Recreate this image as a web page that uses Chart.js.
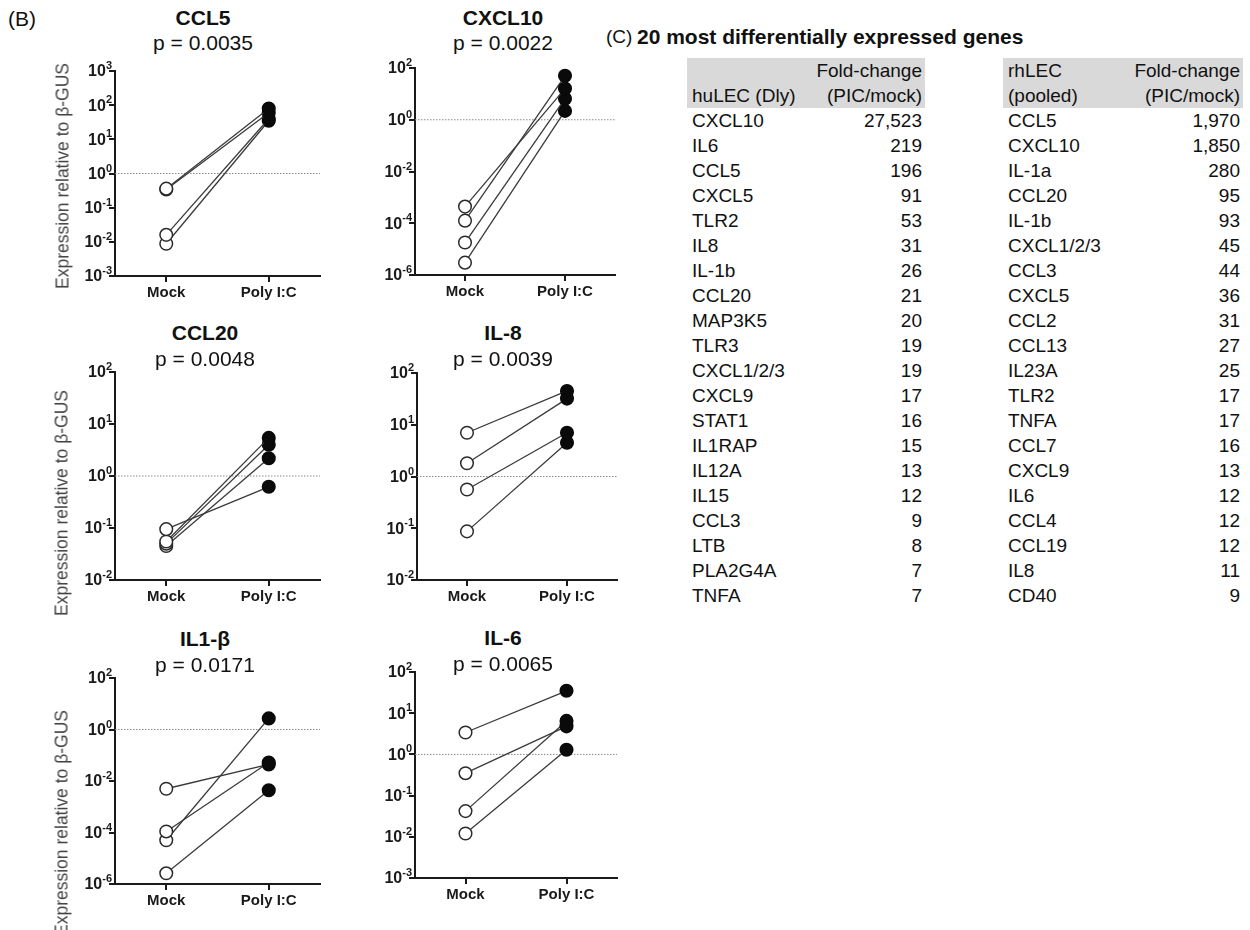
<!DOCTYPE html>
<html>
<head>
<meta charset="utf-8">
<script src="https://cdn.jsdelivr.net/npm/chart.js@4.4.1/dist/chart.umd.min.js"></script>
<style>
  body { margin: 0; background: #fff; font-family: "Liberation Sans", Arial, sans-serif; color: #111; }
  #page { position: relative; width: 1250px; height: 930px; overflow: hidden; }
  .abs { position: absolute; white-space: nowrap; }
  .ctr { transform: translate(-50%, -50%); }
  .title { font-weight: bold; font-size: 21px; }
  .pval { font-size: 21px; }
  .ylab { font-size: 17.5px; color: #444; transform: translate(-50%, -50%) rotate(-90deg); }
  .panel { font-size: 19px; }
  canvas { position: absolute; }
  .tbl { position: absolute; font-size: 19px; line-height: 25px; color: #111; }
  .tbl .hd { background: #d9d9d9; }
  .tbl .row { display: flex; justify-content: space-between; }
</style>
</head>
<body>
<div id="page"></div>
<script>
/* ---------- data ---------- */
const groups = ['Mock', 'Poly I:C'];

const ccl5Mock   = [0.36, 0.34, 0.016, 0.0088];
const ccl5Poly   = [80, 60, 40, 35];
const cxcl10Mock = [4.4e-4, 1.26e-4, 1.8e-5, 3e-6];
const cxcl10Poly = [16, 50, 6.5, 2.2];
const ccl20Mock  = [0.095, 0.055, 0.05, 0.045];
const ccl20Poly  = [0.62, 5.4, 4, 2.2];
const il8Mock    = [7, 1.8, 0.56, 0.087];
const il8Poly    = [45, 32, 7, 4.5];
const il1bMock   = [5e-3, 1.1e-4, 5e-5, 2.6e-6];
const il1bPoly   = [0.044, 0.052, 2.7, 4.4e-3];
const il6Mock    = [3.4, 0.35, 0.042, 0.012];
const il6Poly    = [35, 4.8, 6.5, 1.3];

const ticksA = [1e-3, 1e-2, 1e-1, 1, 1e1, 1e2, 1e3];
const ticksB = [1e-6, 1e-4, 1e-2, 1, 1e2];
const ticksC = [1e-2, 1e-1, 1, 1e1, 1e2];
const ticksD = [1e-3, 1e-2, 1e-1, 1, 1e1, 1e2];

const huGenes = ['CXCL10','IL6','CCL5','CXCL5','TLR2','IL8','IL-1b','CCL20','MAP3K5','TLR3',
                 'CXCL1/2/3','CXCL9','STAT1','IL1RAP','IL12A','IL15','CCL3','LTB','PLA2G4A','TNFA'];
const huFold  = ['27,523','219','196','91','53','31','26','21','20','19','19','17','16','15','13','12','9','8','7','7'];
const rhGenes = ['CCL5','CXCL10','IL-1a','CCL20','IL-1b','CXCL1/2/3','CCL3','CXCL5','CCL2','CCL13',
                 'IL23A','TLR2','TNFA','CCL7','CXCL9','IL6','CCL4','CCL19','IL8','CD40'];
const rhFold  = ['1,970','1,850','280','95','93','45','44','36','31','27','25','17','17','16','13','12','12','12','11','9'];

/* ---------- layout ---------- */
// area = [left, top, right, bottom] of the plot box in page px
const panels = [
  { name: 'CCL5',   p: 'p = 0.0035', mock: ccl5Mock,   poly: ccl5Poly,   ticks: ticksA, area: [115, 71, 320, 276],  tx: 203, ty: 18,  py: 43,  ylab: [63, 176] },
  { name: 'CXCL10', p: 'p = 0.0022', mock: cxcl10Mock, poly: cxcl10Poly, ticks: ticksB, area: [415, 68, 615, 275],  tx: 503, ty: 18,  py: 43 },
  { name: 'CCL20',  p: 'p = 0.0048', mock: ccl20Mock,  poly: ccl20Poly,  ticks: ticksC, area: [115, 372, 320, 580], tx: 205, ty: 333, py: 359, ylab: [62, 503] },
  { name: 'IL-8',   p: 'p = 0.0039', mock: il8Mock,    poly: il8Poly,    ticks: ticksC, area: [417, 373, 617, 580], tx: 503, ty: 333, py: 359 },
  { name: 'IL1-β',  p: 'p = 0.0171', mock: il1bMock,   poly: il1bPoly,   ticks: ticksB, area: [115, 678, 320, 884], tx: 205, ty: 639, py: 665, ylab: [62, 823] },
  { name: 'IL-6',   p: 'p = 0.0065', mock: il6Mock,    poly: il6Poly,    ticks: ticksD, area: [415, 672, 617, 878], tx: 503, ty: 638, py: 664 },
];

const FONT = '"Liberation Sans", Arial, sans-serif';
const page = document.getElementById('page');

function addText(cls, text, x, y, center) {
  const d = document.createElement('div');
  d.className = 'abs ' + cls + (center ? ' ctr' : '');
  d.textContent = text;
  d.style.left = x + 'px';
  d.style.top = y + 'px';
  page.appendChild(d);
  return d;
}

// y tick labels as 10 with a raised exponent
const powerLabels = {
  id: 'powerLabels',
  afterDraw(chart) {
    const ctx = chart.ctx, y = chart.scales.y;
    const right = chart.chartArea.left - 3;
    ctx.save();
    ctx.fillStyle = '#1a1a1a';
    ctx.textBaseline = 'middle';
    y.ticks.forEach(t => {
      const py = y.getPixelForValue(t.value);
      const e = Math.round(Math.log10(t.value));
      const exp = e < 0 ? '-' + (-e) : String(e);
      ctx.font = 'bold 11px ' + FONT;
      const ew = ctx.measureText(exp).width;
      ctx.textAlign = 'left';
      ctx.fillText(exp, right - ew, py - 5);
      ctx.font = 'bold 16px ' + FONT;
      ctx.textAlign = 'right';
      ctx.fillText('10', right - ew, py + 1);
    });
    ctx.restore();
  }
};

// dotted reference at expression = 1
const refLine = {
  id: 'refLine',
  beforeDatasetsDraw(chart) {
    const ctx = chart.ctx, a = chart.chartArea;
    const py = chart.scales.y.getPixelForValue(1);
    ctx.save();
    ctx.strokeStyle = '#8a8a8a';
    ctx.lineWidth = 1;
    ctx.setLineDash([1.5, 1.5]);
    ctx.beginPath();
    ctx.moveTo(a.left, py);
    ctx.lineTo(a.right, py);
    ctx.stroke();
    ctx.restore();
  }
};

panels.forEach(pn => {
  const [l, t, r, b] = pn.area;
  const padL = 50, padT = 12, padR = 12, padB = 32;
  const c = document.createElement('canvas');
  c.width = (r - l) + padL + padR;
  c.height = (b - t) + padT + padB;
  c.style.left = (l - padL) + 'px';
  c.style.top = (t - padT) + 'px';
  page.appendChild(c);

  addText('title', pn.name, pn.tx, pn.ty, true);
  addText('pval', pn.p, pn.tx, pn.py, true);
  if (pn.ylab) {
    addText('ylab', 'Expression relative to β-GUS', pn.ylab[0], pn.ylab[1], false);
  }

  const datasets = pn.mock.map((m, i) => ({
    data: [m, pn.poly[i]],
    borderColor: '#3a3a3a',
    borderWidth: 1.3,
    pointRadius: 6.3,
    pointBorderWidth: 1.5,
    pointBackgroundColor: ['#ffffff', '#0a0a0a'],
    pointBorderColor: ['#2a2a2a', '#0a0a0a'],
    clip: false,
  }));

  const tickVals = pn.ticks;
  new Chart(c, {
    type: 'line',
    data: { labels: groups, datasets },
    options: {
      responsive: false,
      animation: false,
      events: [],
      layout: { padding: { left: padL - 6, top: padT, right: padR, bottom: 2 } },
      plugins: { legend: { display: false }, tooltip: { enabled: false } },
      scales: {
        x: {
          offset: true,
          grid: { offset: false, drawOnChartArea: false, drawTicks: true, tickLength: 6, color: '#1a1a1a', lineWidth: 2 },
          border: { color: '#1a1a1a', width: 2 },
          ticks: { color: '#1a1a1a', padding: 2, font: { family: FONT, size: 15, weight: 'bold' } },
          afterFit: s => { s.height = 30; },
        },
        y: {
          type: 'logarithmic',
          min: tickVals[0],
          max: tickVals[tickVals.length - 1],
          afterBuildTicks: s => { s.ticks = tickVals.map(v => ({ value: v })); },
          grid: { drawOnChartArea: false, drawTicks: true, tickLength: 6, color: '#1a1a1a', lineWidth: 2 },
          border: { color: '#1a1a1a', width: 2 },
          ticks: { display: false },
          afterFit: s => { s.width = 6; },
        }
      }
    },
    plugins: [refLine, powerLabels]
  });
});

/* ---------- panel labels and table ---------- */
addText('panel', '(B)', 8, 7, false).style.fontSize = '21px';
addText('panel', '(C)', 606, 26, false);
addText('title', '20 most differentially expressed genes', 637, 25, false);

function buildTable(left, width, head1, head2, genes, folds) {
  const box = document.createElement('div');
  box.className = 'tbl';
  box.style.left = left + 'px';
  box.style.top = '58px';
  box.style.width = width + 'px';
  const hd = document.createElement('div');
  hd.className = 'hd';
  hd.style.padding = '0 3px 0 5px';
  hd.innerHTML = '<div class="row"><span>' + head1[0] + '</span><span>' + head2[0] + '</span></div>' +
                 '<div class="row"><span>' + head1[1] + '</span><span>' + head2[1] + '</span></div>';
  box.appendChild(hd);
  genes.forEach((g, i) => {
    const row = document.createElement('div');
    row.className = 'row';
    row.style.padding = '0 3px 0 5px';
    row.innerHTML = '<span>' + g + '</span><span>' + folds[i] + '</span>';
    box.appendChild(row);
  });
  page.appendChild(box);
}

buildTable(687, 238, ['', 'huLEC (Dly)'], ['Fold-change', '(PIC/mock)'], huGenes, huFold);
buildTable(1003, 240, ['rhLEC', '(pooled)'], ['Fold-change', '(PIC/mock)'], rhGenes, rhFold);
</script>
</body>
</html>
